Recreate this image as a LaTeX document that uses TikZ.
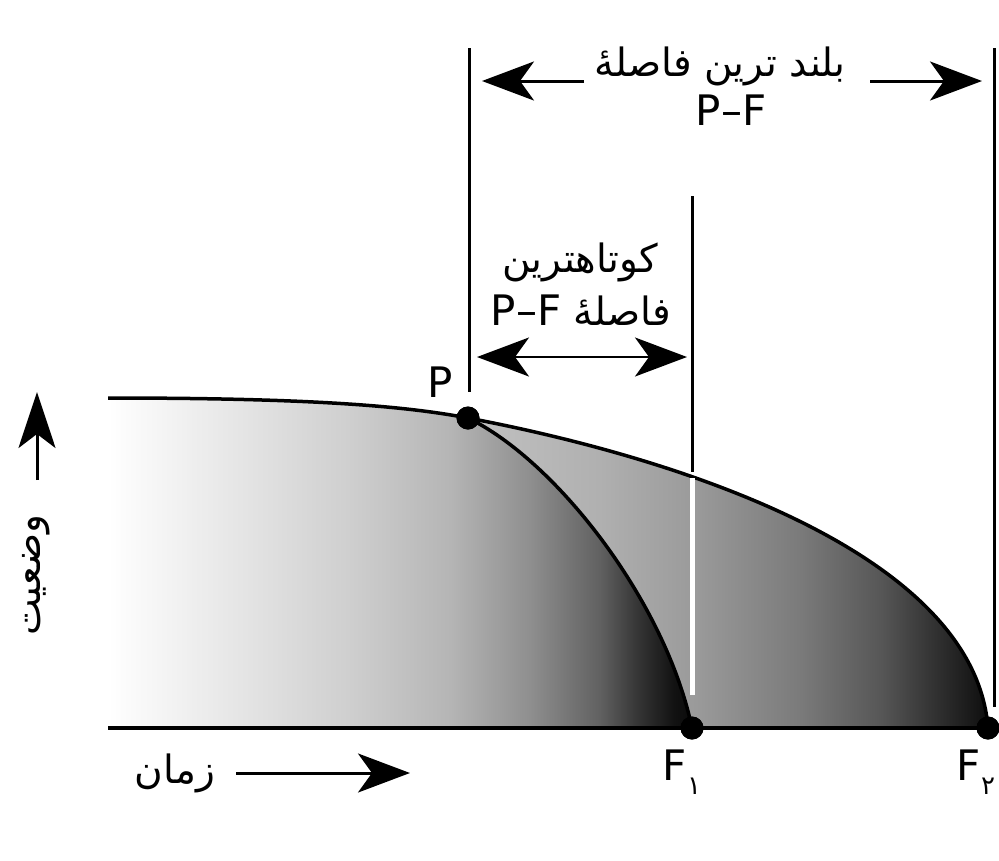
\documentclass[tikz,border=0pt]{standalone}
\usepackage{fontspec}
\setmainfont{DejaVu Sans}
\newfontfamily\arabicfont[Script=Arabic]{DejaVu Sans}
\TeXXeTstate=1
\usetikzlibrary{arrows.meta}
\pgfdeclarehorizontalshading{shA}{100bp}{color(0bp)=(white); color(25bp)=(white); color(37.2bp)=(black!11); color(45.7bp)=(black!19); color(54.3bp)=(black!29); color(61.1bp)=(black!44); color(67.1bp)=(black!62); color(70.5bp)=(black!80); color(73.5bp)=(black!93); color(75bp)=(black!96); color(100bp)=(black!96)}
\pgfdeclarehorizontalshading{shB}{100bp}{color(0bp)=(black!24); color(25bp)=(black!24); color(37.6bp)=(black!31); color(47.2bp)=(black!40); color(56.8bp)=(black!52); color(64.5bp)=(black!66); color(70.2bp)=(black!82); color(75bp)=(black!95); color(100bp)=(black!95)}
\tikzset{
  bigarrow/.style={-{Stealth[length=52pt,width=39pt,inset=14pt]}, line width=3pt},
  dblarrow/.style={{Stealth[length=52pt,width=39pt,inset=14pt]}-{Stealth[length=52pt,width=39pt,inset=14pt]}, line width=2.5pt},
  dot/.style={circle, fill=black, inner sep=0pt, minimum size=23pt},
  vline/.style={line width=3pt},
  curve/.style={line width=3.5pt},
  artext/.style={font=\arabicfont\fontsize{39}{42}\selectfont, inner sep=0pt},
  latext/.style={font=\fontsize{42}{46}\selectfont, inner sep=0pt}
}
\begin{document}
\begin{tikzpicture}[x=1pt,y=-1pt]
\useasboundingbox (0,0) rectangle (999,860);
% fills
\begin{scope}
  \clip (108,728) -- (108,398) .. controls (300,398) and (400,405) .. (468,418)
        .. controls (700,462) and (975,560) .. (988,728) -- cycle;
  \shade[shading=shB] (468,390) rectangle (990,732);
  \clip (100,300) -- (468,300) -- (468,418) .. controls (555,460) and (665,600) .. (692,728) -- (692,740) -- (100,740) -- cycle;
  \shade[shading=shA] (108,390) rectangle (692,732);
\end{scope}
% nodes
\node[dot] (P) at (468,418) {};
\node[dot] (F1) at (692,728) {};
\node[dot] (F2) at (988,728) {};
\coordinate (A0) at (108,728);
\coordinate (T0) at (108,398);
% curves
\draw[curve] (T0) .. controls (300,398) and (400,405) .. (P.center)
      .. controls (700,462) and (975,560) .. (F2.center);
\draw[curve] (P.center) .. controls (555,460) and (665,600) .. (F1.center);
\draw[line width=4pt] (A0) -- (F2.center);
% vertical lines
\coordinate (L1) at (469,48);
\coordinate (L2) at (469,392);
\coordinate (M1) at (692,196);
\coordinate (M2) at (692,472);
\coordinate (W1) at (692,478);
\coordinate (W2) at (692,695);
\coordinate (R1) at (994,48);
\coordinate (R2) at (994,707);
\draw[vline] (L1) -- (L2);
\draw[vline] (M1) -- (M2);
\draw[white, line width=5pt] (W1) -- (W2);
\draw[vline] (R1) -- (R2);
\node[dot] at (P) {};
\node[dot] at (F1) {};
\node[dot] at (F2) {};
% top arrows
\coordinate (ta1) at (584,81);
\coordinate (ta2) at (482,81);
\coordinate (tb1) at (870,81);
\coordinate (tb2) at (982,81);
\draw[bigarrow] (ta1) -- (ta2);
\draw[bigarrow] (tb1) -- (tb2);
\node[artext] (t1a) at (720,66) {\beginR بلند ترین فاصلهٔ\endR};
\node[latext] (t1b) at (731,110) {P–F};
% middle
\coordinate (ma1) at (477,357);
\coordinate (ma2) at (687,357);
\draw[dblarrow] (ma1) -- (ma2);
\node[artext] (t2a) at (580,262) {\beginR کوتاهترین\endR};
\node[artext] (t2b) at (581,310) {\beginR فاصلهٔ \beginL{\rmfamily\fontsize{42}{46}\selectfont P–F}\endL\endR};
% labels
\node[latext] (Pl) at (440,382) {P};
\node[latext] (F1l) at (682,772) {F\raisebox{-14pt}{\arabicfont\fontsize{26}{26}\selectfont ۱}};
\node[latext] (F2l) at (976,772) {F\raisebox{-14pt}{\arabicfont\fontsize{26}{26}\selectfont ۲}};
% axes labels
\coordinate (ya1) at (37,480);
\coordinate (ya2) at (37,392);
\draw[-{Stealth[length=56pt,width=37pt,inset=14pt]}, line width=3pt] (ya1) -- (ya2);
\node[artext, rotate=90] (ylab) at (36,575) {\beginR وضعیت\endR};
\coordinate (xa1) at (236,773);
\coordinate (xa2) at (410,773);
\draw[bigarrow] (xa1) -- (xa2);
\node[artext] (xlab) at (175,773) {\beginR زمان\endR};
\end{tikzpicture}
\end{document}
